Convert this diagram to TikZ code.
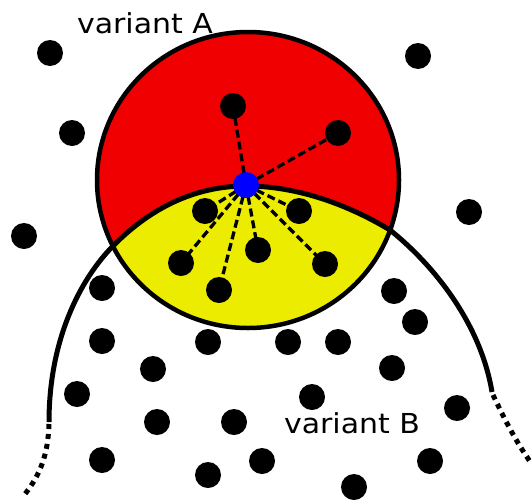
\documentclass[tikz,border=0pt]{standalone}
\usepackage{fontspec}
\setmainfont{DejaVu Sans}
\usetikzlibrary{backgrounds}
\definecolor{cred}{RGB}{240,0,0}
\definecolor{cyel}{RGB}{236,236,0}
\definecolor{cblue}{RGB}{0,0,255}
\begin{document}
\begin{tikzpicture}[x=1pt,y=-1pt,
  dot/.style={circle,fill=black,inner sep=0pt,minimum size=26pt},
  hub/.style={circle,fill=cblue,inner sep=0pt,minimum size=26pt},
  dashline/.style={line width=3.3pt,dash pattern=on 8pt off 4pt},
  boundary/.style={line width=5pt},
  dotend/.style={line width=5pt,dash pattern=on 5pt off 5pt},
  lbl/.style={font=\fontsize{27.5}{32}\selectfont,anchor=base,inner sep=0pt}]
\useasboundingbox (0,0) rectangle (532,501);
% outside points
\node[dot] (o1) at (50,53) {};
\node[dot] (o2) at (418,56) {};
\node[dot] (o3) at (72,133) {};
\node[dot] (o4) at (469,212) {};
\node[dot] (o5) at (24,236) {};
\node[dot] (o6) at (102,288) {};
\node[dot] (o7) at (394,291) {};
\node[dot] (o8) at (415,322) {};
\node[dot] (o9) at (102,341) {};
\node[dot] (o10) at (208,342) {};
\node[dot] (o11) at (288,342) {};
\node[dot] (o12) at (338,342) {};
\node[dot] (o13) at (153,369) {};
\node[dot] (o14) at (392,368) {};
\node[dot] (o15) at (77,394) {};
\node[dot] (o16) at (312,397) {};
\node[dot] (o17) at (457,408) {};
\node[dot] (o18) at (157,422) {};
\node[dot] (o19) at (234,422) {};
\node[dot] (o20) at (102,460) {};
\node[dot] (o21) at (262,461) {};
\node[dot] (o22) at (430,461) {};
\node[dot] (o23) at (208,475) {};
\node[dot] (o24) at (354,487) {};
% inner points
\node[dot] (r1) at (233,106) {};
\node[dot] (r2) at (338,133) {};
\node[dot] (y1) at (205,211) {};
\node[dot] (y2) at (299,211) {};
\node[dot] (y3) at (258,250) {};
\node[dot] (y4) at (181,263) {};
\node[dot] (y5) at (325,264) {};
\node[dot] (y6) at (219,290) {};
\node[hub] (c) at (246,185) {};
\begin{scope}[on background layer]
  \fill[cred] (248,180) ellipse [x radius=151pt, y radius=148pt];
  \begin{scope}
    \clip (248,180) ellipse [x radius=151pt, y radius=148pt];
    \fill[cyel] (49,422) .. controls (49,340) and (80,280) .. (112,247)
      .. controls (150,208) and (195,186) .. (246,186)
      .. controls (295,186) and (345,203) .. (390,230)
      .. controls (430,262) and (480,320) .. (492,392)
      -- (492,501) -- (49,501) -- cycle;
  \end{scope}
  \draw[line width=4.5pt] (248,180) ellipse [x radius=151pt, y radius=148pt];
  \draw[boundary] (49,422) .. controls (49,340) and (80,280) .. (112,247)
      .. controls (150,208) and (195,186) .. (246,186)
      .. controls (295,186) and (345,203) .. (390,230)
      .. controls (430,262) and (480,320) .. (492,392);
  \draw[dotend] (49,424) .. controls (48,455) and (40,475) .. (25,494);
  \draw[dotend] (493,395) .. controls (505,420) and (515,440) .. (531,463);
  \foreach \t in {r1,r2,y1,y2,y3,y4,y5,y6} \draw[dashline] (c.center) -- (\t.center);
\end{scope}
\node[lbl] (la) at (145,33) {\scalebox{1.09}[1]{variant A}};
\node[lbl] (lb) at (352,433) {\scalebox{1.09}[1]{variant B}};
\end{tikzpicture}
\end{document}
